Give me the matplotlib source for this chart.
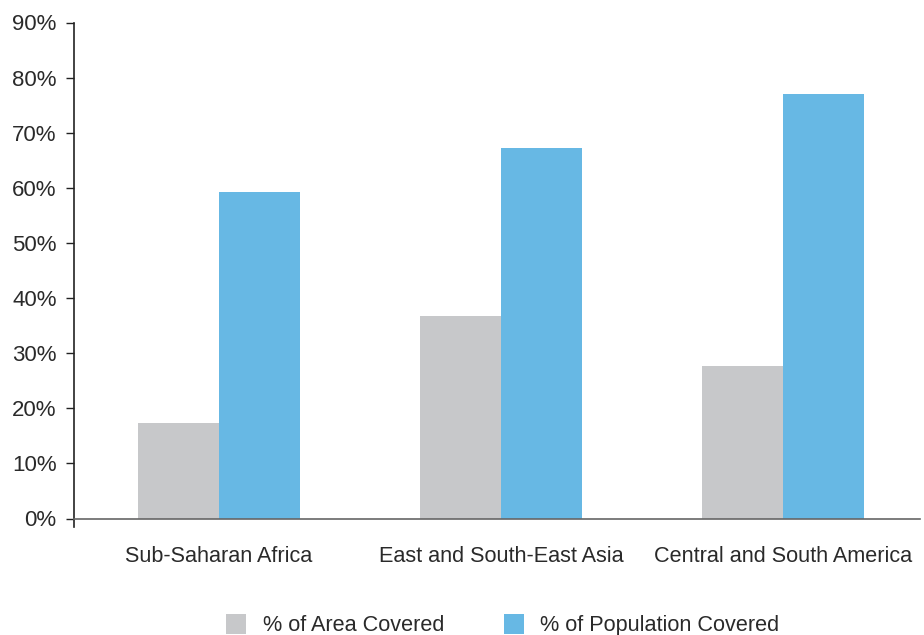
import matplotlib
matplotlib.use("Agg")
import matplotlib.pyplot as plt
import numpy as np
from matplotlib.patches import Patch

categories = ["Sub-Saharan Africa", "East and South-East Asia", "Central and South America"]
area_covered = [17.4, 36.8, 27.7]
population_covered = [59.3, 67.2, 77.0]
series_names = ["% of Area Covered", "% of Population Covered"]
yticks = [0, 10, 20, 30, 40, 50, 60, 70, 80, 90]

gray = "#C7C8CA"
blue = "#67B8E4"
txt = "#2a2a2a"

plt.rcParams['font.family'] = ['Liberation Sans', 'DejaVu Sans']

fig = plt.figure(figsize=(9.24, 6.35), dpi=100)
ax = fig.add_axes([74/924, 1-518.5/635, (920-74)/924, (518.5-22.5)/635])

x = np.arange(len(categories))
w = 0.287
ax.bar(x - w/2, area_covered, width=w, color=gray, label=series_names[0])
ax.bar(x + w/2, population_covered, width=w, color=blue, label=series_names[1])

ax.set_xlim(-0.514, 2.486)
ax.set_ylim(0, 90)
ax.set_yticks(yticks)
ax.set_yticklabels([f"{t}%" for t in yticks], fontsize=16.0, color=txt)
ax.set_xticks(x)
ax.set_xticklabels(categories, fontsize=15.6, color=txt)
ax.tick_params(axis='x', length=0, pad=20)
ax.tick_params(axis='y', length=6, width=1, color="#222222", pad=6.5)

for s in ['top', 'right']:
    ax.spines[s].set_visible(False)
ax.spines['left'].set_color("#222222")
ax.spines['left'].set_linewidth(1.2)
ax.spines['left'].set_bounds(-1.5, 90)
ax.spines['bottom'].set_color("#666666")
ax.spines['bottom'].set_linewidth(1.2)

handles = [Patch(facecolor=gray), Patch(facecolor=blue)]
fig.legend(handles, series_names, loc='lower center', bbox_to_anchor=(0.544, -0.033),
           ncol=2, frameon=False, fontsize=15.6, handlelength=0.95, handleheight=1.1,
           columnspacing=2.75, handletextpad=0.75, labelcolor=txt)

fig.savefig("out.png", dpi=100)
